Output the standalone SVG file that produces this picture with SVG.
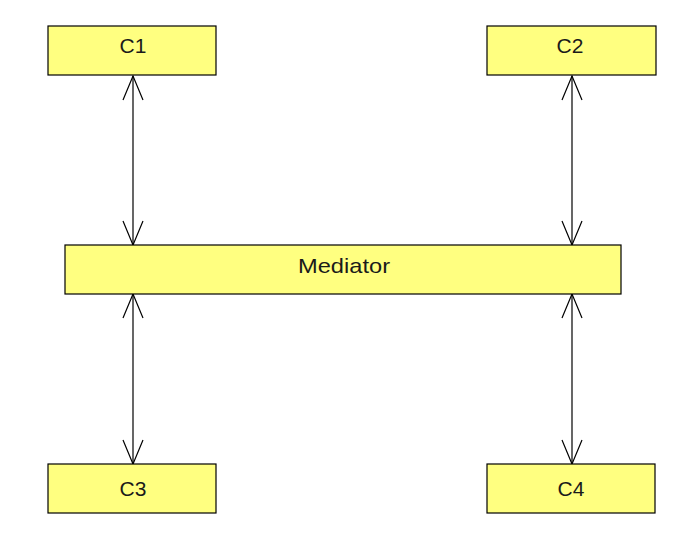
<svg xmlns="http://www.w3.org/2000/svg" width="698" height="551" viewBox="0 0 698 551">
<style>
.box{fill:#ffff80;stroke:#000;stroke-width:1.2}
.lbl{font-family:"Liberation Sans",Arial,sans-serif;font-size:21px;fill:#1a1a1a;text-anchor:middle}
.conn{stroke:#000;stroke-width:1.2;fill:none}
</style>
<defs>
<marker id="open" viewBox="0 0 26 22" refX="25" refY="11" markerWidth="26" markerHeight="22" markerUnits="userSpaceOnUse" orient="auto-start-reverse">
<path d="M1,1 L25,11 L1,21" fill="none" stroke="#000" stroke-width="1.2"/>
</marker>
</defs>
<rect width="698" height="551" fill="#fff"/>
<g id="connectors">
<line class="conn" x1="133" y1="76" x2="133" y2="245" marker-start="url(#open)" marker-end="url(#open)"/>
<line class="conn" x1="572" y1="76" x2="572" y2="245" marker-start="url(#open)" marker-end="url(#open)"/>
<line class="conn" x1="133" y1="294" x2="133" y2="464" marker-start="url(#open)" marker-end="url(#open)"/>
<line class="conn" x1="572" y1="294" x2="572" y2="464" marker-start="url(#open)" marker-end="url(#open)"/>
</g>
<g id="C1"><rect class="box" x="48" y="26" width="168" height="49"/><text class="lbl" x="133" y="53">C1</text></g>
<g id="C2"><rect class="box" x="487" y="26" width="169" height="49"/><text class="lbl" x="570" y="53">C2</text></g>
<g id="Mediator"><rect class="box" x="65" y="245" width="556" height="49"/><text class="lbl" x="344" y="273" textLength="92" lengthAdjust="spacingAndGlyphs">Mediator</text></g>
<g id="C3"><rect class="box" x="48" y="464" width="168" height="49"/><text class="lbl" x="133" y="496">C3</text></g>
<g id="C4"><rect class="box" x="487" y="464" width="168" height="49"/><text class="lbl" x="571" y="496">C4</text></g>
</svg>
